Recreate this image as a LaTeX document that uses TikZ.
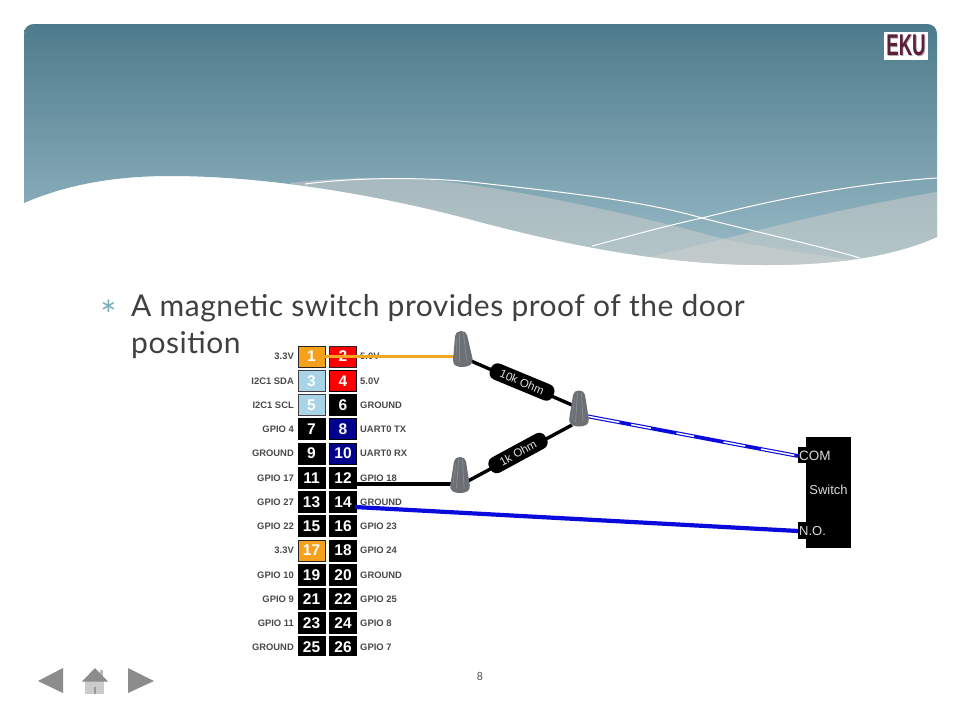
\documentclass[tikz,border=0pt]{standalone}
\usepackage{fontspec}
\setmainfont{Carlito}
\newfontfamily\pinfont{Liberation Sans}
\newfontfamily\bodyfont[LetterSpace=1.7]{Lato}
\newfontfamily\symfont{DejaVu Sans}
\usetikzlibrary{calc}
\definecolor{txtgrey}{HTML}{404040}
\definecolor{pinlabel}{HTML}{4A4A4A}
\definecolor{pinorange}{HTML}{F7A11A}
\definecolor{pinblue}{HTML}{A9D3E6}
\definecolor{pinnavy}{HTML}{00008E}
\definecolor{wireorange}{HTML}{F5A623}
\definecolor{wireblue}{HTML}{0A0ADC}
\definecolor{nutgrey}{HTML}{6C7074}
\definecolor{nutlight}{HTML}{878C90}
\definecolor{eku}{HTML}{5E1F3C}
\definecolor{navgrey}{HTML}{8C8C8C}
\definecolor{headtop}{HTML}{4E7B8C}
\definecolor{headbot}{HTML}{9ABBC7}
\definecolor{wavetint}{HTML}{D0D0CC}
\definecolor{bulletc}{HTML}{78AFC3}
\tikzset{
  pinbox/.style={minimum width=27pt,minimum height=21pt,inner sep=0pt,line width=1pt,draw=#1,text=white,
    font=\pinfont\bfseries\fontsize{15.5}{16}\selectfont},
  pinbox/.default=black,
  labL/.style={anchor=east,inner sep=0pt,text=pinlabel,font=\pinfont\bfseries\fontsize{9.4}{10}\selectfont},
  labR/.style={anchor=west,inner sep=0pt,text=pinlabel,font=\pinfont\bfseries\fontsize{9.4}{10}\selectfont},
  bodytext/.style={anchor=base west,inner sep=0pt,text=txtgrey,font=\bodyfont\fontsize{30}{32}\selectfont},
  swtext/.style={inner sep=0pt,text=white!85!black,font=\pinfont\fontsize{#1}{14}\selectfont},
  resbody/.style={fill=black,rounded corners=7pt,inner sep=0pt,minimum height=17pt,text=white!88!black,
    font=\pinfont\fontsize{11.5}{12}\selectfont},
  wavefill/.style={fill=wavetint,fill opacity=.5},
  wirenut/.pic={
    \fill[nutgrey] (-6,-13) .. controls (-5.5,-19) and (5.5,-19) .. (6,-13)
       -- (9.8,11) .. controls (10.5,17) and (5,18.5) .. (0,18.5) .. controls (-5,18.5) and (-10.5,17) .. (-9.8,11) -- cycle;
    \draw[nutlight,line width=.8pt] (-1.5,-15) -- (-3.5,14);
    \draw[nutlight,line width=.8pt] (2.5,-15) -- (4,14);
    \draw[nutlight,line width=.5pt] (-4.5,-10) -- (-7,11);
  }
}
\begin{document}
\begin{tikzpicture}[x=1pt,y=-1pt]
\useasboundingbox (0,0) rectangle (960,720);
\fill[white] (0,0) rectangle (960,720);
% header
\begin{scope}
\clip (24,203) -- (24,34) .. controls (24,28) and (28,24) .. (34,24) -- (927,24) .. controls (933,24) and (937,28) .. (937,34) -- (937,237)
  .. controls (890,258) and (830,265) .. (765,265) .. controls (660,265) and (560,243) .. (480,222) .. controls (400,200) and (280,176) .. (170,176) .. controls (120,176) and (70,183) .. (24,203) -- cycle;
\shade[top color=headtop,bottom color=headbot] (24,24) rectangle (937,265);
\fill[wavefill] (290,183) .. controls (330,178) and (390,176) .. (430,180) .. controls (500,186) and (640,215) .. (723,239) .. controls (770,248) and (820,256) .. (870,262) -- (870,270) -- (290,270) -- cycle;
\fill[wavefill] (937,192) .. controls (860,205) and (790,222) .. (723,239) .. controls (690,247) and (650,257) .. (615,266) -- (937,270) -- cycle;
\draw[white,line width=1pt] (305,184) .. controls (350,178) and (420,176) .. (480,183) .. controls (560,192) and (640,200) .. (702,218) .. controls (760,233) and (820,246) .. (860,258);
\draw[white,line width=1pt] (592,246) .. controls (630,236) and (665,226) .. (702,218) .. controls (780,198) and (860,183) .. (937,178);
\end{scope}
% logo
\fill[white] (884,32) rectangle (928,59.5);
\node[inner sep=0pt,xscale=.62,text=black!30,font=\pinfont\bfseries\fontsize{30}{30}\selectfont] (ekushadow) at (906.8,46) {EKU};
\node[inner sep=0pt,xscale=.62,text=eku,font=\pinfont\bfseries\fontsize{30}{30}\selectfont] (ekulogo) at (906,45.2) {EKU};
% body text
\node[inner sep=0pt,text=bulletc,font=\symfont\fontsize{20}{20}\selectfont] (bullet) at (108.5,306) {∗};
\node[bodytext] (line1) at (131,316) {A magnetic switch provides proof of the door};
\node[bodytext] (line2) at (131,353.5) {position};
% pins
\begin{scope}
\clip (245,335) rectangle (420,655);
\foreach \n/\y/\fillc/\drawc/\lab in {
 1/356.5/pinorange/black!85/3.3V, 3/381/pinblue/black!75/I2C1 SDA, 5/405/pinblue/black!75/I2C1 SCL,
 7/429/black/black/GPIO 4, 9/453.5/black/black/GROUND, 11/478/black/black/GPIO 17, 13/502/black/black/GPIO 27,
 15/526/black/black/GPIO 22, 17/550.5/pinorange/black!85/3.3V, 19/575/black/black/GPIO 10, 21/599/black/black/GPIO 9,
 23/623/black/black/GPIO 11, 25/647/black/black/GROUND}{
  \node[pinbox=\drawc,fill=\fillc] (p\n) at (311.5,\y) {\n};
  \node[labL] (l\n) at (294,\y) {\lab};
}
\foreach \n/\y/\fillc/\drawc/\lab in {
 2/356.5/red/black!85/5.0V, 4/381/red/black/5.0V, 6/405/black/black/GROUND,
 8/429/pinnavy/black/UART0 TX, 10/453.5/pinnavy/black/UART0 RX, 12/478/black/black/GPIO 18, 14/502/black/black/GROUND,
 16/526/black/black/GPIO 23, 18/550.5/black/black/GPIO 24, 20/575/black/black/GROUND, 22/599/black/black/GPIO 25,
 24/623/black/black/GPIO 8, 26/647/black/black/GPIO 7}{
  \node[pinbox=\drawc,fill=\fillc] (p\n) at (343,\y) {\n};
  \node[labR] (l\n) at (360,\y) {\lab};
}
\end{scope}
% switch
\fill[black] (806,437) rectangle (851,548);
\node[fill=black,minimum width=9pt,minimum height=16pt,inner sep=0pt] (tabcom) at (802.5,455) {};
\node[fill=black,minimum width=9pt,minimum height=17pt,inner sep=0pt] (tabno) at (802.5,530.5) {};
\node[swtext=13.5,anchor=west] (comlab) at (799,455.5) {COM};
\node[swtext=13,anchor=center] (swlab) at (828.5,490) {Switch};
\node[swtext=13,anchor=west] (nolab) at (799,531) {N.O.};
% anchors
\coordinate (nutA) at (462,348.5);
\coordinate (nutB) at (579,408);
\coordinate (nutC) at (460,474.5);
\coordinate (w1s) at (323,356.5);
\coordinate (w1e) at (454,356.5);
\coordinate (w12s) at (357,484);
\coordinate (w12e) at (452,484);
\coordinate (w14s) at (355,507);
\coordinate (w14e) at (798,531);
\coordinate (coms) at (586,416);
\coordinate (come) at (798,456);
% wires
\draw[wireorange,line width=3.8pt] (w1s) -- (w1e);
\draw[black,line width=3.8pt] (w12s) -- (w12e);
\draw[wireblue,line width=4.2pt] (w14s) -- (w14e);
\draw[wireblue,line width=3.8pt] (coms) -- (come);
\draw[white,line width=1.5pt,dash pattern=on 34pt off 12pt on 20pt off 26pt on 18pt off 30pt on 22pt off 16pt] (coms) -- (come);
% resistors
\draw[black,line width=3.4pt] (nutA) ++(8,12) -- ($(nutB)+(-7,-3)$);
\draw[black,line width=3.4pt] (nutC) ++(8,6.5) -- ($(nutB)+(-7,17)$);
\node[resbody,minimum width=68pt,rotate=-22.5] (r10k) at (522,382) {10k Ohm};
\node[resbody,minimum width=64pt,rotate=28.5] (r1k) at (518,453) {1k Ohm};
\pic[rotate=4] at (nutA) {wirenut};
\pic at (nutB) {wirenut};
\pic at (nutC) {wirenut};
% footer
\node[inner sep=0pt,text=black!65,font=\fontsize{12}{12}\selectfont] (pageno) at (480,676) {8};
\fill[navgrey] (38,681) -- (63,668) -- (63,693) -- cycle;
\fill[navgrey] (154,681) -- (128,668) -- (128,693) -- cycle;
\fill[navgrey!60] (100,670) rectangle (103,677);
\fill[navgrey!45] (85,681) rectangle (104,694);
\fill[navgrey] (95,668) -- (108,681.5) -- (82,681.5) -- cycle;
\fill[navgrey!110!black] (93.5,687) rectangle (96,694);
\end{tikzpicture}
\end{document}
